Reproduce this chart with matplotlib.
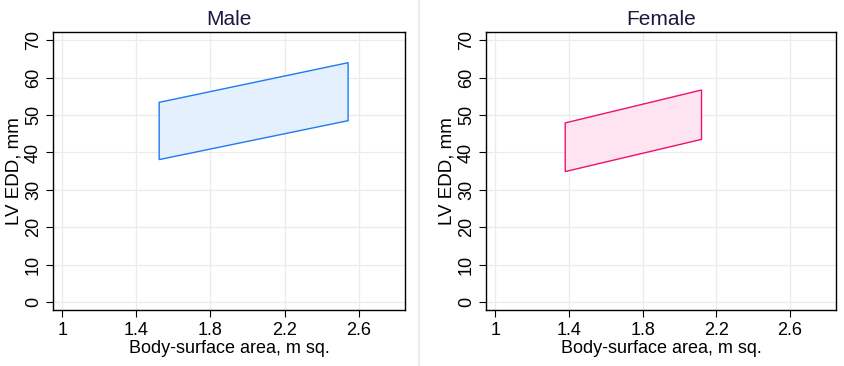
import matplotlib.pyplot as plt
from matplotlib.patches import Polygon

plt.rcParams["font.family"] = ["Liberation Sans", "DejaVu Sans"]

# parallelogram corners: BSA (x) and LV EDD (y), traced around
male_bsa = [1.523, 2.543, 2.543, 1.523]
male_edd = [38.1, 48.5, 64.0, 53.4]
female_bsa = [1.38, 2.12, 2.12, 1.38]
female_edd = [34.9, 43.5, 56.7, 47.9]

x_ticks = [1, 1.4, 1.8, 2.2, 2.6]
x_tick_labels = ["1", "1.4", "1.8", "2.2", "2.6"]
y_ticks = [0, 10, 20, 30, 40, 50, 60, 70]

panels = [
    ("Male", male_bsa, male_edd, "#1f7bf0", "#e4f0fd"),
    ("Female", female_bsa, female_edd, "#ec1270", "#fde4f0"),
]

fig = plt.figure(figsize=(8.45, 3.66), dpi=100)
boxes = [[53 / 845, 56 / 366, 352 / 845, 278 / 366],
         [486 / 845, 56 / 366, 350 / 845, 278 / 366]]

for box, (title, xs, ys, edge, fill) in zip(boxes, panels):
    ax = fig.add_axes(box)
    ax.add_patch(Polygon(list(zip(xs, ys)), closed=True, facecolor=fill,
                         edgecolor=edge, linewidth=1.0, zorder=3))
    ax.set_xlim(0.95, 2.85)
    ax.set_ylim(-2.1, 72.2)
    ax.set_xticks(x_ticks)
    ax.set_xticklabels(x_tick_labels)
    ax.set_yticks(y_ticks)
    ax.tick_params(axis="y", labelrotation=90, pad=3)
    for lbl in ax.get_yticklabels():
        lbl.set_va("center")
    ax.tick_params(labelsize=13, length=5, width=0.8, colors="black", direction="out")
    ax.grid(True, color="#e8ecee", linewidth=0.9, zorder=0)
    ax.set_axisbelow(True)
    for s in ax.spines.values():
        s.set_linewidth(1.0)
    ax.set_title(title, fontsize=15, color="#1a1a40", pad=5)
    ax.set_xlabel("Body-surface area, m sq.", fontsize=13, labelpad=1)
    ax.set_ylabel("LV EDD, mm", fontsize=13.5, labelpad=2)

# faint divider between the two graphs
fig.add_artist(plt.Line2D([419.5 / 845, 419.5 / 845], [0, 1], color="#ececec", linewidth=1.5))

fig.savefig("out.png", dpi=100)
